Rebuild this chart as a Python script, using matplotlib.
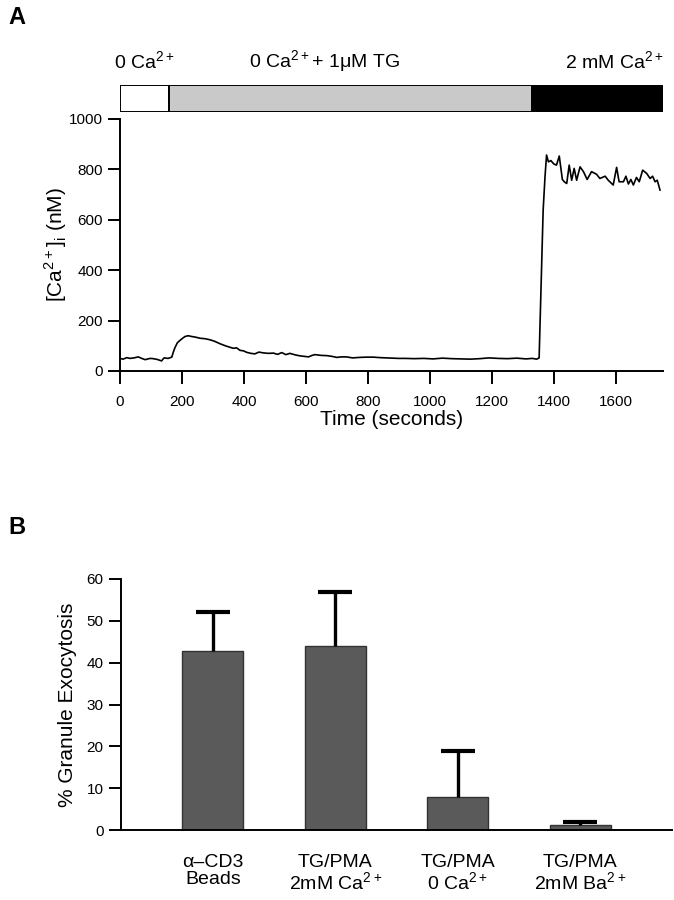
import matplotlib.pyplot as plt

# Panel A: calcium trace
time_s = [0, 10, 22, 32, 45, 59, 70, 81, 97, 107, 120, 134, 142, 155, 167, 172,
          177, 185, 194, 202, 210, 220, 231, 245, 258, 275, 290, 305, 323, 340,
          355, 366, 376, 387, 398, 409, 422, 435, 448, 462, 478, 495, 508, 522,
          535, 548, 565, 581, 595, 608, 620, 629, 648, 667, 684, 699, 715, 731,
          750, 774, 795, 817, 840, 860, 880, 898, 920, 950, 980, 1010, 1040,
          1070, 1100, 1130, 1161, 1190, 1220, 1250, 1280, 1310, 1330, 1344,
          1352, 1360, 1365, 1371, 1376, 1382, 1390, 1399, 1408, 1417, 1427,
          1434, 1441, 1449, 1457, 1465, 1473, 1484, 1495, 1507, 1521, 1537,
          1548, 1565, 1575, 1591, 1602, 1610, 1624, 1632, 1640, 1648, 1656,
          1666, 1675, 1686, 1699, 1710, 1718, 1726, 1733, 1742]
calcium_nM = [50, 47, 53, 50, 52, 56, 50, 45, 50, 49, 46, 40, 52, 50, 55, 75,
              92, 112, 122, 130, 137, 140, 137, 134, 130, 128, 124, 118, 108, 100,
              94, 90, 92, 82, 80, 74, 70, 68, 75, 72, 70, 71, 66, 73,
              65, 70, 64, 60, 58, 56, 62, 65, 62, 61, 58, 54, 56, 56,
              52, 54, 55, 55, 53, 52, 51, 50, 50, 49, 50, 48, 51,
              49, 48, 47, 49, 52, 50, 49, 51, 48, 50, 47,
              52, 413, 638, 771, 857, 830, 835, 822, 817, 853, 760,
              750, 744, 817, 757, 804, 757, 810, 791, 760, 791, 781,
              764, 773, 757, 738, 808, 751, 751, 773, 742, 760, 738,
              768, 751, 797, 784, 764, 773, 751, 757, 718]

# solution bar segments (seconds)
seg_start = [0, 158, 1330]
seg_end = [158, 1330, 1752]
seg_colors = ['white', '#c9c9c9', 'black']

# Panel B: exocytosis
conditions = ['\u03b1\u2013CD3\nBeads', 'TG/PMA\n2mM Ca$^{2+}$',
              'TG/PMA\n0 Ca$^{2+}$', 'TG/PMA\n2mM Ba$^{2+}$']
exocytosis = [42.9, 44.1, 8.0, 1.2]
exo_err = [9.1, 12.7, 11.0, 0.8]

plt.rcParams['font.family'] = ['Liberation Sans', 'DejaVu Sans']
plt.rcParams['mathtext.fontset'] = 'custom'
plt.rcParams['mathtext.rm'] = 'Liberation Sans'

fig = plt.figure(figsize=(6.74, 9.0), dpi=100)
W, H = 674.0, 900.0

def box(x0, y0, x1, y1):
    # pixel box -> figure fraction
    return [x0 / W, 1 - y1 / H, (x1 - x0) / W, (y1 - y0) / H]

# ---- top bar
axbar = fig.add_axes(box(120, 85, 662.5, 111.5))
for s, e, c in zip(seg_start, seg_end, seg_colors):
    axbar.barh(0, e - s, left=s, height=1, color=c, edgecolor='black', linewidth=1.4)
axbar.set_xlim(0, 1750)
axbar.set_ylim(-0.5, 0.5)
axbar.axis('off')

fig.text(144 / W, 1 - 62 / H, '0 Ca$^{2+}$', ha='center', va='center', fontsize=14)
fig.text(325 / W, 1 - 62 / H, '0 Ca$^{2+}$+ 1\u03bcM TG', ha='center', va='center', fontsize=14)
fig.text(664 / W, 1 - 62 / H, '2 mM Ca$^{2+}$', ha='right', va='center', fontsize=14)

# ---- trace
axA = fig.add_axes(box(120, 119, 662.5, 371))
axA.plot(time_s, calcium_nM, color='black', linewidth=1.2)
axA.set_xlim(0, 1750)
axA.set_ylim(0, 1000)
axA.set_xticks(range(0, 1601, 200))
axA.set_yticks(range(0, 1001, 200))
axA.spines['top'].set_visible(False)
axA.spines['right'].set_visible(False)
for sp in axA.spines.values():
    sp.set_linewidth(1.4)
axA.tick_params(direction='out', length=9, width=1.4, labelsize=11)
axA.tick_params(axis='x', pad=8)
axA.set_xlabel('Time (seconds)', fontsize=15, labelpad=1)
axA.set_ylabel('[Ca$^{2+}$]$_{\\rm i}$ (nM)', fontsize=15, labelpad=0)
fig.text(8 / W, 1 - 18 / H, 'A', fontsize=17, fontweight='bold', va='center')

# ---- bars
axB = fig.add_axes(box(121, 579, 672, 830))
xpos = range(len(conditions))
axB.bar(xpos, exocytosis, width=0.5, color='#5a5a5a', edgecolor='#333333', linewidth=1.0)
eb = axB.errorbar(xpos, exocytosis, yerr=[[0] * len(exo_err), exo_err], fmt='none',
                  ecolor='black', elinewidth=2.4, capsize=12, capthick=3)
eb[1][0].set_visible(False)  # no lower caps
axB.set_xlim(-0.75, 3.75)
axB.set_ylim(0, 60)
axB.set_yticks(range(0, 61, 10))
axB.set_xticks(list(xpos))
axB.set_xticklabels(conditions, fontsize=14, linespacing=1.05)
axB.spines['top'].set_visible(False)
axB.spines['right'].set_visible(False)
for sp in axB.spines.values():
    sp.set_linewidth(1.4)
axB.tick_params(axis='y', direction='out', length=9, width=1.4, labelsize=11)
axB.tick_params(axis='x', length=0, pad=17)
axB.set_ylabel('% Granule Exocytosis', fontsize=15, labelpad=7)
fig.text(8 / W, 1 - 527 / H, 'B', fontsize=17, fontweight='bold', va='center')

fig.savefig('out.png', dpi=100)
